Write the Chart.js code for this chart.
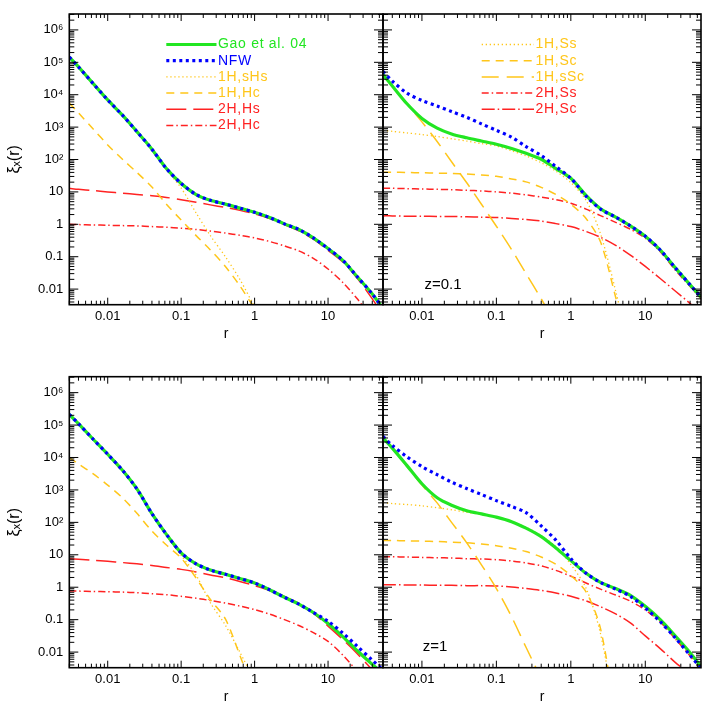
<!DOCTYPE html>
<html>
<head>
<meta charset="utf-8">
<script src="https://cdn.jsdelivr.net/npm/chart.js@4.4.1/dist/chart.umd.min.js"></script>
<style>
  html, body { margin: 0; padding: 0; overflow: hidden; background: #fff; }
  canvas { position: absolute; left: 0; top: 0; }
</style>
</head>
<body>
<canvas id="tl" width="708" height="740"></canvas>
<canvas id="tr" width="708" height="740"></canvas>
<canvas id="bl" width="708" height="740"></canvas>
<canvas id="br" width="708" height="740"></canvas>
<script>
// radius grid shared by every curve
const rGrid = [0.003, 0.004, 0.0063, 0.01, 0.016, 0.025, 0.04, 0.063, 0.1, 0.16, 0.25, 0.4, 0.63, 1, 1.6, 2.5, 4, 6.3, 10, 16, 25, 40, 56];

const xTicks = [0.01, 0.1, 1, 10];
const xTickLabels = ['0.01', '0.1', '1', '10'];
const yTicks = [0.01, 0.1, 1, 10, 100, 1e3, 1e4, 1e5, 1e6];
const yTickLabels = ['0.01', '0.1', '1', '10', '10²', '10³', '10⁴', '10⁵', '10⁶'];

// top left
const tlGao = [1.45e5, 7.2e4, 2.24e4, 6900, 2290, 724, 209, 52.5, 18.2, 8.3, 5.5, 4.2, 3.16, 2.34, 1.62, 1.05, 0.69, 0.38, 0.178, 0.076, 0.024, 0.0071, 0.0025];
const tlNfw = [1.45e5, 7.2e4, 2.24e4, 6900, 2290, 724, 209, 52.5, 18.2, 8.3, 5.5, 4.2, 3.16, 2.34, 1.62, 1.05, 0.69, 0.38, 0.178, 0.076, 0.024, 0.0071, 0.0025];
const tlOneSHs = [1.45e5, 7.2e4, 2.24e4, 6900, 2290, 724, 209, 47.9, 13.2, 2.24, 0.447, 0.1, 0.02, 0.0028];
const tlOneHc = [5500, 2750, 890, 282, 100, 39.8, 14.1, 4.17, 1.35, 0.447, 0.162, 0.05, 0.0126, 0.0025];
const tlTwoHs = [12.9, 12.0, 11.0, 10.0, 9.12, 8.32, 7.59, 6.76, 5.75, 4.79, 3.98, 3.31, 2.69, 2.09, 1.51, 1.0, 0.63, 0.347, 0.158, 0.0676, 0.0214, 0.005, 0.00158];
const tlTwoHc = [1.0, 0.98, 0.955, 0.933, 0.912, 0.891, 0.851, 0.813, 0.759, 0.692, 0.617, 0.537, 0.457, 0.38, 0.295, 0.219, 0.151, 0.0891, 0.0417, 0.0158, 0.005, 0.00126, 0.0005];

// top right, z=0.1
const trGao = [4.17e4, 1.86e4, 5250, 1860, 933, 617, 468, 372, 295, 219, 155, 102, 52.5, 26.3, 7.76, 3.02, 1.66, 0.891, 0.427, 0.158, 0.0468, 0.0135, 0.00562];
const trNfw = [5.25e4, 2.63e4, 1.12e4, 6610, 4470, 3020, 2000, 1260, 794, 490, 251, 132, 60.3, 26.3, 7.41, 2.95, 1.66, 0.891, 0.427, 0.158, 0.0468, 0.0135, 0.00562];
const trOneSs = [794, 741, 661, 589, 513, 437, 372, 309, 263, 186, 129, 79.4, 43.7, 19.5, 5.5, 0.513, 0.0087, 0.0001];
const trOneSc = [40.7, 40.7, 39.8, 38.9, 38.0, 37.2, 35.5, 33.1, 30.2, 25.1, 20.4, 13.8, 8.32, 4.17, 1.51, 0.288, 0.00562, 0.0001];
const trOneSSc = [4.17e4, 1.82e4, 5130, 1450, 360, 85, 19.1, 4.17, 0.871, 0.166, 0.0302, 0.005, 0.00079];
const trTwoSs = [12.9, 12.9, 12.6, 12.3, 12.0, 11.7, 11.2, 10.7, 10.0, 9.12, 8.13, 6.92, 5.75, 4.47, 2.95, 1.86, 1.15, 0.708, 0.372, 0.141, 0.0398, 0.012, 0.005];
const trTwoSc = [1.82, 1.82, 1.78, 1.78, 1.74, 1.74, 1.7, 1.66, 1.62, 1.51, 1.41, 1.26, 1.05, 0.851, 0.603, 0.398, 0.224, 0.112, 0.0501, 0.0209, 0.00891, 0.00355, 0.00158];

// bottom left
const blGao = [2.14e5, 1.1e5, 3.72e4, 1.26e4, 3980, 1070, 186, 42.7, 11.5, 5.25, 3.39, 2.51, 1.86, 1.35, 0.832, 0.501, 0.302, 0.166, 0.0759, 0.0295, 0.011, 0.00417, 0.00224];
const blNfw = [2.14e5, 1.1e5, 3.72e4, 1.26e4, 3980, 1070, 186, 42.7, 11.5, 5.25, 3.39, 2.51, 1.86, 1.35, 0.832, 0.501, 0.302, 0.166, 0.0891, 0.038, 0.0151, 0.00562, 0.00282];
const blOneSHs = [2.14e5, 1.1e5, 3.72e4, 1.26e4, 3980, 1070, 186, 38.0, 9.55, 2.34, 0.331, 0.0676, 0.01, 0.00126];
const blOneHc = [1.0e4, 6310, 3160, 1410, 562, 191, 53.7, 20, 7.94, 1.91, 0.417, 0.105, 0.00794, 0.0005];
const blTwoHs = [7.59, 7.24, 6.76, 6.31, 5.75, 5.25, 4.68, 4.07, 3.55, 2.95, 2.4, 1.95, 1.51, 1.12, 0.794, 0.525, 0.316, 0.158, 0.0631, 0.024, 0.00891, 0.00282, 0.00112];
const blTwoHc = [0.759, 0.759, 0.741, 0.724, 0.708, 0.676, 0.631, 0.589, 0.525, 0.457, 0.389, 0.324, 0.263, 0.204, 0.148, 0.102, 0.0661, 0.0398, 0.0214, 0.00794, 0.00251, 0.00063, 0.00025];

// bottom right, z=1
const brGao = [3.98e4, 1.95e4, 5620, 1550, 575, 339, 229, 182, 145, 105, 66.1, 36.3, 16.2, 6.61, 2.69, 1.41, 0.912, 0.562, 0.257, 0.0977, 0.0324, 0.00955, 0.00355];
const brNfw = [4.47e4, 2.34e4, 1.05e4, 5250, 2950, 1740, 1100, 724, 468, 309, 200, 77.6, 28.2, 7.59, 2.69, 1.41, 0.871, 0.525, 0.229, 0.0851, 0.0282, 0.00794, 0.00316];
const brOneSs = [407, 380, 355, 324, 282, 245, 204, 174, 145, 102, 70.8, 38.9, 17.8, 5.01, 0.933, 0.0372, 0.0001];
const brOneSc = [27.5, 27.5, 26.9, 26.3, 25.7, 24.5, 23.4, 21.4, 19.1, 15.8, 12.6, 8.51, 5.13, 2.29, 0.724, 0.0537, 0.0001];
const brOneSSc = [3.98e4, 1.91e4, 5250, 1410, 398, 100, 23.4, 4.9, 0.912, 0.123, 0.0141, 0.00158, 0.00025];
const brTwoSs = [8.71, 8.71, 8.51, 8.32, 8.13, 7.94, 7.59, 7.41, 7.08, 6.46, 5.62, 4.57, 3.31, 2.19, 1.35, 0.871, 0.575, 0.372, 0.2, 0.0832, 0.0263, 0.00759, 0.00282];
const brTwoSc = [1.2, 1.2, 1.17, 1.17, 1.15, 1.15, 1.12, 1.12, 1.1, 1.02, 0.912, 0.794, 0.661, 0.525, 0.38, 0.251, 0.151, 0.0794, 0.0316, 0.0126, 0.0049, 0.00204, 0.001];

const FONT = '"Liberation Sans", Arial, Helvetica, sans-serif';
const GOLD = '#ffc61a', RED = '#ff2222';

const look = {
    gao:   {color: '#22e622', width: 3.2, dash: [],             order: 1},
    nfw:   {color: '#0000ff', width: 3.2, dash: [3, 3.5],       order: 0},
    dot:   {color: GOLD,      width: 1.3, dash: [1.3, 2.7],     order: 2},
    dash:  {color: GOLD,      width: 1.5, dash: [8, 6],         order: 2},
    ldash: {color: GOLD,      width: 1.5, dash: [17, 8],        order: 2},
    red:   {color: RED,       width: 1.5, dash: [20, 7],        order: 2},
    dd:    {color: RED,       width: 1.5, dash: [7, 3, 1.5, 3], order: 2},
    ddl:   {color: RED,       width: 1.5, dash: [13, 3, 1.5, 3], order: 2}
};

function logMarks(min, max) {
    const out = [];
    for (let e = Math.floor(Math.log10(min)); e <= Math.ceil(Math.log10(max)); e++) {
        for (let k = 1; k <= 9; k++) {
            const v = k * Math.pow(10, e);
            if (v >= min * 0.999 && v <= max * 1.001) out.push([v, k === 1]);
        }
    }
    return out;
}

function makePanel(id, box, series, extra) {
    const W = 708, H = 740, axisH = 40;
    const axisW = extra.yLabels ? box.left : 20;

    const frame = {
        id: 'frame',
        afterDatasetsDraw(chart) {
            const {ctx, chartArea: a, scales: {x, y}} = chart;
            ctx.save();
            ctx.strokeStyle = '#000';
            ctx.lineWidth = 1;
            ctx.setLineDash([]);
            ctx.beginPath();
            logMarks(x.min, x.max).forEach(([v, major]) => {
                const p = x.getPixelForValue(v), len = major ? 7 : 4;
                ctx.moveTo(p, a.bottom); ctx.lineTo(p, a.bottom - len);
                ctx.moveTo(p, a.top); ctx.lineTo(p, a.top + len);
            });
            logMarks(y.min, y.max).forEach(([v, major]) => {
                const p = y.getPixelForValue(v), len = major ? 9 : 5;
                ctx.moveTo(a.left, p); ctx.lineTo(a.left + len, p);
                ctx.moveTo(a.right, p); ctx.lineTo(a.right - len, p);
            });
            ctx.stroke();
            ctx.lineWidth = 1.6;
            ctx.strokeRect(a.left, a.top, a.right - a.left, a.bottom - a.top);

            if (extra.legend) {
                const L = extra.legend;
                ctx.font = '14px ' + FONT;
                ctx.letterSpacing = '0.7px';
                ctx.textBaseline = 'middle';
                series.filter(s => s.legend).forEach((s, i) => {
                    const yy = L.y0 + i * L.dy;
                    ctx.beginPath();
                    ctx.strokeStyle = s.look.color;
                    ctx.lineWidth = s.look.width;
                    ctx.setLineDash(s.look.dash);
                    ctx.moveTo(L.x0, yy);
                    ctx.lineTo(L.x1, yy);
                    ctx.stroke();
                    ctx.fillStyle = s.look.color;
                    ctx.fillText(s.label, L.x1 + 1.5, yy);
                });
                ctx.letterSpacing = '0px';
            }
            if (extra.note) {
                ctx.font = '15px ' + FONT;
                ctx.fillStyle = '#000';
                ctx.textAlign = 'center';
                ctx.textBaseline = 'middle';
                ctx.fillText(extra.note.text, extra.note.x, extra.note.y);
            }
            ctx.restore();
        }
    };

    return new Chart(document.getElementById(id), {
        type: 'line',
        data: {
            labels: rGrid,
            datasets: series.map(s => ({
                label: s.label,
                data: s.data,
                borderColor: s.look.color,
                borderWidth: s.look.width,
                borderDash: s.look.dash,
                order: s.look.order,
                pointRadius: 0,
                fill: false,
                spanGaps: false,
                tension: 0.3
            }))
        },
        options: {
            responsive: false,
            animation: false,
            layout: {
                autoPadding: false,
                padding: {left: box.left - axisW, top: box.top, right: W - box.right, bottom: H - box.bottom - axisH}
            },
            plugins: {legend: {display: false}, tooltip: {enabled: false}},
            scales: {
                x: {
                    type: 'logarithmic', min: 0.003, max: 56,
                    afterBuildTicks: s => { s.ticks = xTicks.map(v => ({value: v})); },
                    afterFit: s => { s.height = axisH; },
                    grid: {display: false, drawTicks: false},
                    border: {display: false},
                    ticks: {
                        color: '#000', font: {family: FONT, size: 13}, padding: 4,
                        autoSkip: false, maxRotation: 0,
                        callback: (v, i) => xTickLabels[i]
                    },
                    title: {display: true, text: 'r', color: '#000', font: {family: FONT, size: 14}, padding: {top: 0, bottom: 2.3}}
                },
                y: {
                    type: 'logarithmic', min: 0.0033, max: 3.1e6,
                    afterBuildTicks: s => { s.ticks = yTicks.map(v => ({value: v})); },
                    afterFit: s => { s.width = axisW; },
                    grid: {display: false, drawTicks: false},
                    border: {display: false},
                    ticks: {
                        display: extra.yLabels,
                        color: '#000', font: {family: FONT, size: 13}, padding: 6,
                        autoSkip: false,
                        callback: (v, i) => yTickLabels[i]
                    },
                    title: {display: extra.yLabels, text: 'ξₓ(r)', color: '#000', font: {family: FONT, size: 16}, padding: {top: 5, bottom: 0}}
                }
            }
        },
        plugins: [frame]
    });
}

const topLeft = {left: 69.3, top: 14, right: 383, bottom: 304.7};
const topRight = {left: 383, top: 14, right: 701, bottom: 304.7};
const bottomLeft = {left: 69.3, top: 376.7, right: 383, bottom: 667.7};
const bottomRight = {left: 383, top: 376.7, right: 701, bottom: 667.7};

makePanel('tl', topLeft, [
    {label: 'Gao et al. 04', data: tlGao, look: look.gao, legend: true},
    {label: 'NFW', data: tlNfw, look: look.nfw, legend: true},
    {label: '1H,sHs', data: tlOneSHs, look: look.dot, legend: true},
    {label: '1H,Hc', data: tlOneHc, look: look.dash, legend: true},
    {label: '2H,Hs', data: tlTwoHs, look: look.red, legend: true},
    {label: '2H,Hc', data: tlTwoHc, look: look.dd, legend: true}
], {yLabels: true, legend: {x0: 166.3, x1: 216.5, y0: 44.5, dy: 16.2}});

makePanel('tr', topRight, [
    {label: 'Gao et al. 04', data: trGao, look: look.gao},
    {label: 'NFW', data: trNfw, look: look.nfw},
    {label: '1H,Ss', data: trOneSs, look: look.dot, legend: true},
    {label: '1H,Sc', data: trOneSc, look: look.dash, legend: true},
    {label: '1H,sSc', data: trOneSSc, look: look.ldash, legend: true},
    {label: '2H,Ss', data: trTwoSs, look: look.dd, legend: true},
    {label: '2H,Sc', data: trTwoSc, look: look.ddl, legend: true}
], {yLabels: false, legend: {x0: 481.7, x1: 534, y0: 44.5, dy: 16.2}, note: {text: 'z=0.1', x: 443, y: 285}});

makePanel('bl', bottomLeft, [
    {label: 'Gao et al. 04', data: blGao, look: look.gao},
    {label: 'NFW', data: blNfw, look: look.nfw},
    {label: '1H,sHs', data: blOneSHs, look: look.dot},
    {label: '1H,Hc', data: blOneHc, look: look.dash},
    {label: '2H,Hs', data: blTwoHs, look: look.red},
    {label: '2H,Hc', data: blTwoHc, look: look.dd}
], {yLabels: true});

makePanel('br', bottomRight, [
    {label: 'Gao et al. 04', data: brGao, look: look.gao},
    {label: 'NFW', data: brNfw, look: look.nfw},
    {label: '1H,Ss', data: brOneSs, look: look.dot},
    {label: '1H,Sc', data: brOneSc, look: look.dash},
    {label: '1H,sSc', data: brOneSSc, look: look.ldash},
    {label: '2H,Ss', data: brTwoSs, look: look.dd},
    {label: '2H,Sc', data: brTwoSc, look: look.ddl}
], {yLabels: false, note: {text: 'z=1', x: 435, y: 647}});
</script>
</body>
</html>
